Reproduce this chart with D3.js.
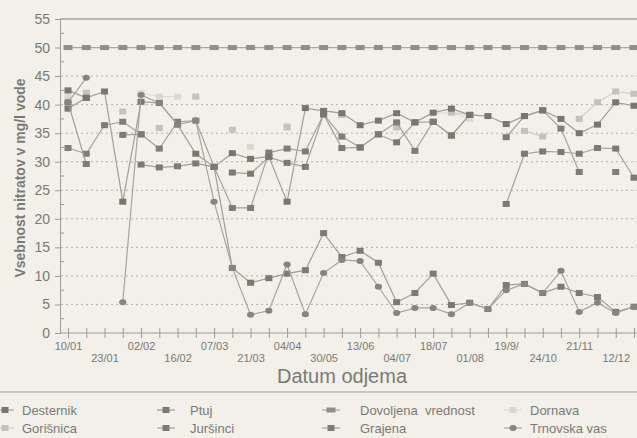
<!DOCTYPE html>
<meta charset="utf-8">
<style>
body { margin: 0; background: #f2f0e8; }
text { font-family: "Liberation Sans", Arial, sans-serif; fill: #7a7a76; }
.tick-x text { font-family: "Liberation Sans Narrow", "Liberation Sans", Arial, sans-serif; font-size: 11px; }
.grid line { stroke: #b3b2ab; stroke-dasharray: 2,3; }
</style>
<svg width="637" height="438"></svg>
<script src="https://d3js.org/d3.v7.min.js"></script>
<script>

// tick labels for the sampling dates (only every second one is labelled)
var dateLabels = ["10/01", null, "23/01", null, "02/02", null, "16/02", null,
  "07/03", null, "21/03", null, "04/04", null, "30/05", null,
  "13/06", null, "04/07", null, "18/07", null, "01/08", null,
  "19/9/", null, "24/10", null, "21/11", null, "12/12", null];

var yTicks = [0, 5, 10, 15, 20, 25, 30, 35, 40, 45, 50, 55];

// nitrate values, mg/l (null = no sample)
var desternik = [42.5, 41.2, 42.3, 23, 40.5, 40.3, 36.5, 31.4, 29.1, 31.5, 30.5, 30.9, 23, 39.4, 38.9, 38.5,
  36.4, 37.2, 38.5, 36.9, 38.6, 39.3, 38.2, 38, 36.6, 38, 39, 37.5, 35, 36.5, 40.4, 39.8];
var ptuj = [40.4, 29.6, null, null, 29.5, 29.0, 29.2, 29.7, 29.1, 11.4, 8.8, 9.6, 10.4, 11, 17.5, 13.3,
  14.4, 12.3, 5.4, 7, 10.4, 4.9, 5.3, 4.2, 8.4, 8.6, 7, 8.1, 7, 6.3, 3.7, 4.6];
var dovoljena = [50, 50, 50, 50, 50, 50, 50, 50, 50, 50, 50, 50, 50, 50, 50, 50,
  50, 50, 50, 50, 50, 50, 50, 50, 50, 50, 50, 50, 50, 50, 50, 50];
var dornava = [41.5, null, null, null, 42, 41.4, 41.4, null, null, null, 32.6, null, 36.3, null, null, null,
  null, null, 36.5, null, 38.5, 38.6, 37.5, null, null, null, null, null, null, null, null, null];
var gorisnica = [null, 42.1, null, 38.8, null, 35.9, null, 41.4, null, 35.6, null, null, 36, null, null, 38.2,
  null, null, 36, null, null, 38.6, 38.2, null, null, 35.4, 34.4, null, 37.5, 40.4, 42.3, 41.9];
var jursinci = [39.3, 41.2, null, 34.7, 34.8, null, null, null, null, 28.1, 27.9, 30.8, 29.8, 29.1, 38.3, 32.4,
  32.5, 34.8, 33.4, 36.9, 37, 34.6, 38.2, null, 22.6, 31.4, 31.8, 31.7, 31.4, 32.4, 32.3, 27.2];
var grajena = [32.4, 31.4, 36.4, 37, 34.8, 32.3, 37, 37.2, 29.1, 21.9, 21.9, 31.6, 32.3, 31.8, 38.3, 34.4,
  32.5, 34.8, 36.9, 31.9, 37, 34.6, 38.2, null, 34.3, 38, 39, 35.8, 28.2, null, 28.2, null];
var trnovska = [40.4, 44.7, null, 5.4, 41.7, 40.3, 36.5, 37.2, 23, 11.4, 3.2, 3.9, 12, 3.3, 10.5, 12.8,
  12.6, 8.1, 3.5, 4.4, 4.4, 3.3, 5.3, 4.2, 7.5, 8.6, 7, 10.9, 3.7, 5.3, 3.5, 4.6];

var series = [
  {name: "Dornava", values: dornava, color: "#d9d8d1", line: "#dedcd5", shape: "square"},
  {name: "Gorišnica", values: gorisnica, color: "#c3c2bb", line: "#d0cfc8", shape: "square"},
  {name: "Dovoljena  vrednost", values: dovoljena, color: "#8f8f89", line: "#a9a8a1", shape: "wide"},
  {name: "Grajena", values: grajena, color: "#7e7e77", line: "#a4a39c", shape: "square"},
  {name: "Juršinci", values: jursinci, color: "#7a7a73", line: "#a4a39c", shape: "square"},
  {name: "Desternik", values: desternik, color: "#77776f", line: "#a19f98", shape: "square"},
  {name: "Ptuj", values: ptuj, color: "#7b7b74", line: "#9f9e97", shape: "square"},
  {name: "Trnovska vas", values: trnovska, color: "#85857e", line: "#a6a59e", shape: "circle"}
];

var svg = d3.select("svg");

var x = d3.scalePoint().domain(d3.range(dateLabels.length)).range([68, 634]),
    y = d3.scaleLinear().domain([0, 55]).range([333, 19]);

// grid
svg.append("g").attr("class", "grid")
  .selectAll("line").data(yTicks.filter(function(d) { return d > 0 && d < 50; }))
  .enter().append("line")
    .attr("x1", 61).attr("x2", 637)
    .attr("y1", function(d) { return y(d); }).attr("y2", function(d) { return y(d); });

// top border
svg.append("line").attr("x1", 60).attr("x2", 637).attr("y1", y(55)).attr("y2", y(55))
  .attr("stroke", "#a6a59f").attr("stroke-width", 1.5);

// y axis
var yAxis = svg.append("g")
    .attr("transform", "translate(60,0)")
    .call(d3.axisLeft(y).tickValues(yTicks).tickSize(5).tickPadding(5));
yAxis.selectAll("text").style("font-size", "14px");
yAxis.append("g").selectAll("line").data(d3.range(2.5, 55, 5))
  .enter().append("line")
    .attr("x1", 0).attr("x2", 4)
    .attr("y1", function(d) { return y(d); }).attr("y2", function(d) { return y(d); });

// x axis
var xAxis = svg.append("g")
    .attr("class", "tick-x")
    .attr("transform", "translate(0,333)")
    .call(d3.axisBottom(x).tickSize(5).tickFormat(function(i) { return dateLabels[i] || ""; }));
xAxis.select(".domain").attr("d", "M60,0H637");
xAxis.selectAll(".tick line").attr("y1", -5).attr("y2", 5);
xAxis.selectAll(".tick text").attr("y", function(i) { return (i / 2) % 2 ? 21 : 9; });

svg.selectAll(".domain, .tick line").attr("stroke", "#9c9b95");
yAxis.selectAll("line").attr("stroke", "#9c9b95");
svg.selectAll(".tick text").attr("fill", "#7d7d78");

// series
var line = d3.line()
    .defined(function(d) { return d != null; })
    .x(function(d, i) { return x(i); })
    .y(function(d) { return y(d); });

function marker(sel, s) {
  if (s.shape === "circle") {
    sel.append("ellipse").attr("rx", 3.6).attr("ry", 3).attr("fill", s.color);
  } else if (s.shape === "wide") {
    sel.append("rect").attr("x", -4.5).attr("y", -2.5).attr("width", 9).attr("height", 5).attr("fill", s.color);
  } else {
    sel.append("rect").attr("x", -3.5).attr("y", -3).attr("width", 7).attr("height", 6).attr("fill", s.color);
  }
}

series.forEach(function(s) {
  var g = svg.append("g");
  g.append("path")
    .attr("d", line(s.values))
    .attr("fill", "none")
    .attr("stroke", s.line)
    .attr("stroke-width", 1.2);
  g.selectAll("g.pt")
    .data(s.values.map(function(v, i) { return {v: v, i: i}; }).filter(function(d) { return d.v != null; }))
    .enter().append("g")
      .attr("class", "pt")
      .attr("transform", function(d) { return "translate(" + x(d.i) + "," + y(d.v) + ")"; })
      .each(function() { marker(d3.select(this), s); });
});

// titles
svg.append("text")
  .attr("x", 342).attr("y", 383)
  .attr("text-anchor", "middle")
  .style("font-size", "20px")
  .text("Datum odjema");

svg.append("text")
  .attr("transform", "translate(25,178) rotate(-90)")
  .attr("text-anchor", "middle")
  .style("font-size", "14px")
  .style("font-weight", "bold")
  .text("Vsebnost nitratov v mg/l vode");

// legend
svg.append("line").attr("x1", 0).attr("x2", 637).attr("y1", 392).attr("y2", 392)
  .attr("stroke", "#9c9b95");

var legendOrder = ["Desternik", "Ptuj", "Dovoljena  vrednost", "Dornava",
                   "Gorišnica", "Juršinci", "Grajena", "Trnovska vas"];
var legendMark = [5, 166, 331, 513],
    legendText = [22, 190, 360, 530];

legendOrder.forEach(function(name, k) {
  var s = series.find(function(d) { return d.name === name; });
  var ly = k < 4 ? 410 : 428;
  var g = svg.append("g").attr("transform", "translate(0," + ly + ")");
  var mx = legendMark[k % 4];
  g.append("line").attr("x1", Math.max(0, mx - 9)).attr("x2", mx + 9).attr("stroke", s.line).attr("stroke-width", 1.2);
  var m = g.append("g").attr("transform", "translate(" + mx + ",0)");
  marker(m, s);
  g.append("text")
    .attr("x", legendText[k % 4]).attr("y", 5)
    .style("font-size", "13px")
    .style("white-space", "pre")
    .text(name);
});

</script>
